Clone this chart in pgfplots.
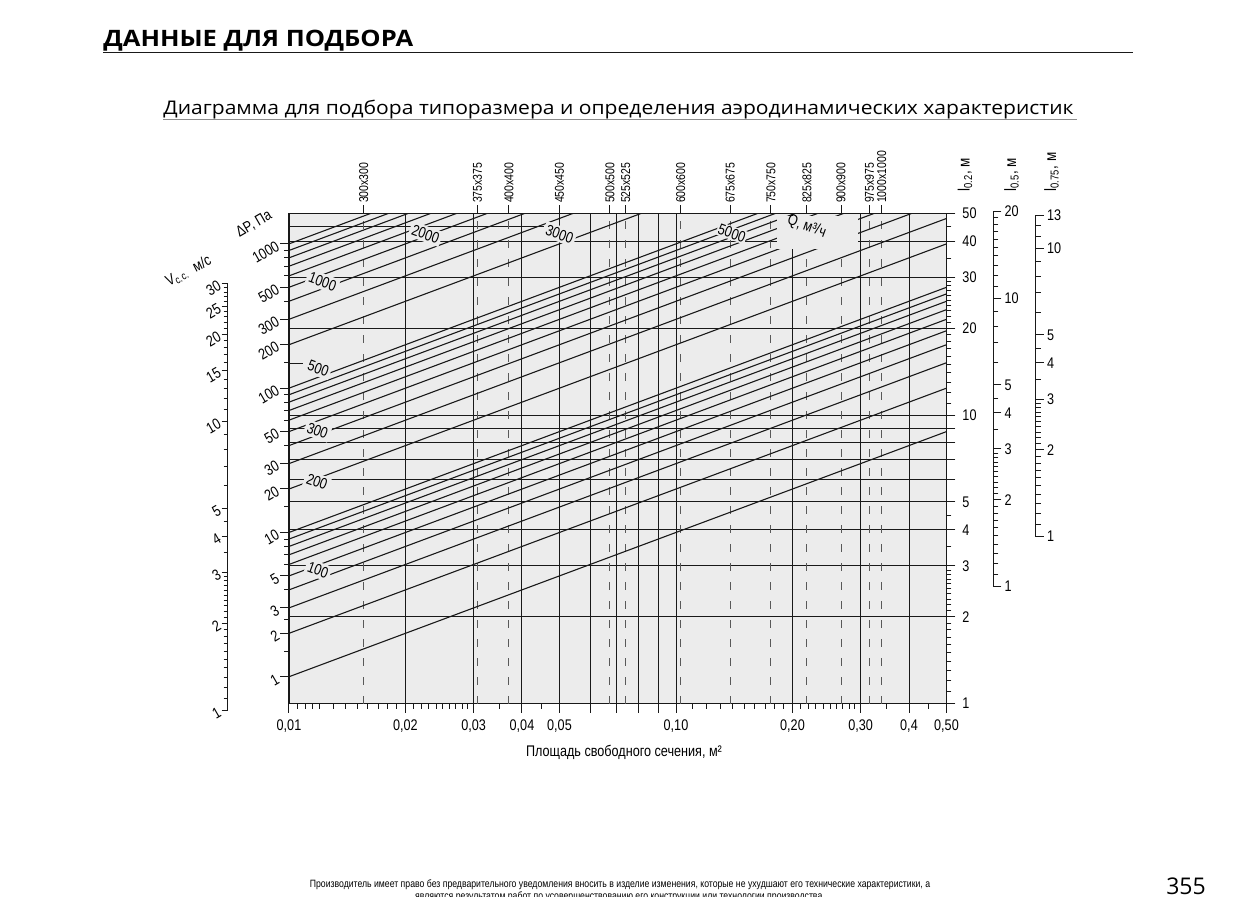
\documentclass[border=0pt]{standalone}
\usepackage{pgfplots}
\pgfplotsset{compat=1.18}
\usepackage{fontspec}
\setmainfont{Liberation Sans}[FakeStretch=0.82]
\newfontfamily\headfont{Open Sans}
\newfontfamily\headwide{Open Sans}[FakeStretch=1.13]
\newfontfamily\subwide{Open Sans}[FakeStretch=1.12]
\definecolor{bgg}{RGB}{236,236,236}
\definecolor{ink}{RGB}{25,25,25}
\newcommand\tl{\fontsize{7.7}{8}\selectfont}
\newcommand\szf{\fontsize{6.4}{7}\selectfont}
\tikzset{
  diag/.style={ink, line width=0.55pt},
  dsh/.style={black!65, line width=0.5pt, dash pattern=on 4pt off 5.5pt},
}
\begin{document}
\begin{tikzpicture}
\useasboundingbox (0pt,0pt) rectangle (620.5pt,-448.5pt);
% header
\node[anchor=base west, inner sep=0pt, font=\headwide\bfseries\fontsize{11.3}{13}\selectfont] at (51.5pt,-23.25pt) {ДАННЫЕ ДЛЯ ПОДБОРА};
\draw[ink, line width=0.5pt] (51.5pt,-26.25pt) -- (566.5pt,-26.25pt);
\node[anchor=base west, inner sep=0pt, font=\subwide\fontsize{9.4}{11}\selectfont] at (81.5pt,-57.5pt) {Диаграмма для подбора типоразмера и определения аэродинамических характеристик};
\draw[black!45, line width=0.4pt] (81.5pt,-59.7pt) -- (538.5pt,-59.7pt);

% main axis
\begin{axis}[
  at={(144.5pt,-351.8pt)}, anchor=south west,
  scale only axis, width=328.75pt, height=245.15pt,
  xmode=log, ymode=log, xmin=0.01, xmax=0.5, ymin=1, ymax=50,
  axis background/.style={fill=bgg},
  axis line style={line width=0.6pt, ink},
  tick align=outside, tick style={ink, line width=0.5pt},
  xtick pos=left, ytick pos=right, xticklabel pos=left, yticklabel pos=right,
  xtick={0.01,0.02,0.03,0.04,0.05,0.06,0.07,0.08,0.09,0.1,0.2,0.3,0.4,0.5},
  xticklabels={{0,01},{0,02},{0,03},{0,04},{0,05},{},{},{},{},{0,10},{0,20},{0,30},{0,4},{0,50}},
  minor xtick={0.0105,0.011,0.0115,0.012,0.013,0.014,0.015,0.016,0.017,0.018,0.019,0.021,0.022,0.023,0.024,0.025,0.026,0.027,0.028,0.029,0.035,0.045,0.11,0.12,0.13,0.14,0.15,0.16,0.17,0.18,0.19,0.21,0.22,0.23,0.24,0.25,0.26,0.27,0.28,0.29,0.35,0.45},
  ytick={1,2,3,4,5,6,7,8,9,10,20,30,40,50},
  yticklabels={1,2,3,4,5,{},{},{},{},10,20,30,40,50},
  minor ytick={1.1,1.2,1.3,1.4,1.5,1.6,1.7,1.8,1.9,2.1,2.2,2.3,2.4,2.5,2.6,2.7,2.8,2.9,3.5,4.5,11,12,13,14,15,16,17,18,19,21,22,23,24,25,26,27,28,29,35,45},
  major tick length=4.5pt, minor tick length=2.5pt,
  grid=major, major grid style={ink, line width=0.5pt},
  ticklabel style={font=\tl},
  clip=true,
]
% partial horizontal line and leader
\addplot[diag] coordinates {(0.01,44.9) (0.0455,44.9)};
\addplot[diag] coordinates {(0.01,15.11) (0.0109,15.11)};
% dashed size lines
\addplot[dsh] coordinates {(0.0156,1) (0.0156,50)};
\addplot[dsh] coordinates {(0.0307,1) (0.0307,50)};
\addplot[dsh] coordinates {(0.0370,1) (0.0370,50)};
\addplot[dsh] coordinates {(0.0675,1) (0.0675,50)};
\addplot[dsh] coordinates {(0.0742,1) (0.0742,50)};
\addplot[dsh] coordinates {(0.1029,1) (0.1029,50)};
\addplot[dsh] coordinates {(0.138,1) (0.138,50)};
\addplot[dsh] coordinates {(0.176,1) (0.176,50)};
\addplot[dsh] coordinates {(0.218,1) (0.218,50)};
\addplot[dsh] coordinates {(0.267,1) (0.267,50)};
\addplot[dsh] coordinates {(0.316,1) (0.316,50)};
\addplot[dsh] coordinates {(0.340,1) (0.340,50)};
% diagonals (dP = 1 ... 1000 Pa at A = 0.01)
\addplot[diag] coordinates {(0.01,1.239) (0.5,8.761)};
\addplot[diag] coordinates {(0.01,1.752) (0.5,12.390)};
\addplot[diag] coordinates {(0.01,2.146) (0.5,15.175)};
\addplot[diag] coordinates {(0.01,2.478) (0.5,17.522)};
\addplot[diag] coordinates {(0.01,2.770) (0.5,19.590)};
\addplot[diag] coordinates {(0.01,3.035) (0.5,21.460)};
\addplot[diag] coordinates {(0.01,3.278) (0.5,23.180)};
\addplot[diag] coordinates {(0.01,3.504) (0.5,24.780)};
\addplot[diag] coordinates {(0.01,3.717) (0.5,26.283)};
\addplot[diag] coordinates {(0.01,3.918) (0.5,27.705)};
\addplot[diag] coordinates {(0.01,5.541) (0.5,39.181)};
\addplot[diag] coordinates {(0.01,6.786) (0.5,47.987)};
\addplot[diag] coordinates {(0.01,7.836) (0.5,55.410)};
\addplot[diag] coordinates {(0.01,8.761) (0.5,61.950)};
\addplot[diag] coordinates {(0.01,9.597) (0.5,67.863)};
\addplot[diag] coordinates {(0.01,10.366) (0.5,73.300)};
\addplot[diag] coordinates {(0.01,11.082) (0.5,78.361)};
\addplot[diag] coordinates {(0.01,11.754) (0.5,83.114)};
\addplot[diag] coordinates {(0.01,12.390) (0.5,87.611)};
\addplot[diag] coordinates {(0.01,17.522) (0.5,123.90)};
\addplot[diag] coordinates {(0.01,21.460) (0.5,151.75)};
\addplot[diag] coordinates {(0.01,24.780) (0.5,175.22)};
\addplot[diag] coordinates {(0.01,27.705) (0.5,195.90)};
\addplot[diag] coordinates {(0.01,30.349) (0.5,214.60)};
\addplot[diag] coordinates {(0.01,32.781) (0.5,231.79)};
\addplot[diag] coordinates {(0.01,35.044) (0.5,247.80)};
\addplot[diag] coordinates {(0.01,37.170) (0.5,262.83)};
\addplot[diag] coordinates {(0.01,39.181) (0.5,277.05)};
% labels with masks
\node[fill=bgg, inner sep=0pt, minimum width=40.5pt, minimum height=16.5pt] at (axis cs:0.23225,42.90) {};
\node[rotate=-20, font=\tl] at (axis cs:0.2176,44.93) {Q, м³/ч};
\node[fill=bgg, inner sep=1.2pt, rotate=-20, font=\tl] at (axis cs:0.02253,42.38) {2000};
\node[fill=bgg, inner sep=1.2pt, rotate=-20, font=\tl] at (axis cs:0.05002,42.38) {3000};
\node[fill=bgg, inner sep=0.6pt, rotate=-20, font=\tl] at (axis cs:0.1394,42.71) {5000};
\node[fill=bgg, inner sep=1.2pt, rotate=-20, font=\tl] at (axis cs:0.012208,28.96) {1000};
\node[fill=bgg, inner sep=1.2pt, rotate=-20, font=\tl] at (axis cs:0.011905,14.51) {500};
\node[fill=bgg, inner sep=1.2pt, rotate=-20, font=\tl] at (axis cs:0.011849,8.817) {300};
\node[fill=bgg, inner sep=1.2pt, rotate=-20, font=\tl] at (axis cs:0.011814,5.873) {200};
\node[fill=bgg, inner sep=1.2pt, rotate=-20, font=\tl] at (axis cs:0.011884,2.903) {100};
\end{axis}

% size ticks on top
\begin{axis}[
  at={(144.5pt,-351.8pt)}, anchor=south west,
  scale only axis, width=328.75pt, height=245.15pt,
  xmode=log, xmin=0.01, xmax=0.5, ymin=0, ymax=1,
  axis line style={draw=none}, ytick=\empty,
  xtick pos=right, xticklabel pos=right, tick align=outside,
  xtick={0.0156,0.0307,0.0370,0.0500,0.0675,0.0742,0.1029,0.138,0.176,0.218,0.267,0.316,0.340},
  xticklabels={300x300,375x375,400x400,450x450,500x500,525x525,600x600,675x675,750x750,825x825,900x900,975x975,1000x1000},
  major tick length=4pt, tick style={ink, line width=0.5pt},
  xticklabel style={rotate=90, anchor=west, font=\szf, inner sep=1pt},
]
\end{axis}

% dP scale
\begin{axis}[
  scale only axis, width=1pt, xmin=0, xmax=1, ymode=log,
  axis x line=none, axis y line=left, y axis line style={draw=none},
  tick align=outside, tick style={ink, line width=0.5pt}, ticklabel style={font=\tl},
  at={(144.5pt,-338.35pt)}, anchor=south west, height=229.16pt,
  ymin=1, ymax=1500,
  ytick={1,2,3,5,10,20,30,50,100,200,300,500,1000},
  yticklabels={1,2,3,5,10,20,30,50,100,200,300,500,1000},
  minor ytick={1.5,2.5,4,6,7,8,9,15,40,60,70,80,90,150,400,600,700,800,900},
  major tick length=4.5pt, minor tick length=2.5pt,
  yticklabel style={rotate=30, anchor=east, inner sep=1pt},
]
\end{axis}

% V scale
\begin{axis}[
  scale only axis, width=1pt, xmin=0, xmax=1, ymode=log,
  axis x line=none, axis y line=left, y axis line style={-, line width=0.6pt, ink},
  tick align=outside, tick style={ink, line width=0.5pt}, ticklabel style={font=\tl},
  at={(113.85pt,-355pt)}, anchor=south west, height=213.15pt,
  ymin=1, ymax=30,
  ytick={1,2,3,4,5,10,15,20,25,30},
  yticklabels={1,2,3,4,5,10,15,20,25,30},
  minor ytick={1.1,1.2,1.3,1.4,1.5,1.6,1.7,1.8,1.9,2.1,2.2,2.3,2.4,2.5,2.6,2.7,2.8,2.9,3.5,4.5,6,7,8,9,11,12,13,14,16,17,18,19,21,22,23,24,26,27,28,29},
  major tick length=3pt, minor tick length=2pt,
  yticklabel style={rotate=30, anchor=east, inner sep=1pt},
]
\end{axis}

% l0.5 scale
\begin{axis}[
  scale only axis, width=1pt, xmin=0, xmax=1, ymode=log,
  axis x line=none, axis y line=right, y axis line style={-, line width=0.6pt, ink},
  tick align=outside, tick style={ink, line width=0.5pt}, ticklabel style={font=\tl},
  at={(496.65pt,-293.35pt)}, anchor=south east, height=187.75pt,
  ymin=1, ymax=20,
  ytick={1,2,3,4,5,10,20},
  yticklabels={1,2,3,4,5,10,20},
  minor ytick={1.1,1.2,1.3,1.4,1.5,1.6,1.7,1.8,1.9,2.1,2.2,2.3,2.4,2.5,2.6,2.7,2.8,2.9,3.5,4.5,6,7,8,9,11,12,13,14,15,16,17,18,19},
  major tick length=4pt, minor tick length=2.5pt,
  yticklabel style={inner sep=1.5pt},
]
\end{axis}

% l0.75 scale
\begin{axis}[
  scale only axis, width=1pt, xmin=0, xmax=1, ymode=log,
  axis x line=none, axis y line=right, y axis line style={-, line width=0.6pt, ink},
  tick align=outside, tick style={ink, line width=0.5pt}, ticklabel style={font=\tl},
  at={(517.85pt,-268.35pt)}, anchor=south east, height=160.74pt,
  ymin=1, ymax=13,
  ytick={1,2,3,4,5,10,13},
  yticklabels={1,2,3,4,5,10,13},
  minor ytick={1.1,1.2,1.3,1.4,1.5,1.6,1.7,1.8,1.9,2.1,2.2,2.3,2.4,2.5,2.6,2.7,2.8,2.9,3.5,4.5,6,7,8,9,11,12},
  major tick length=4pt, minor tick length=2.5pt,
  yticklabel style={inner sep=1.5pt},
]
\end{axis}

% scale titles
\node[rotate=30, font=\tl, inner sep=0pt] at (127pt,-112pt) {ΔP,~Па};
\node[rotate=27, font=\tl] at (94.25pt,-135.5pt) {V\textsubscript{c.c.}\ \ м/с};
\node[rotate=90, anchor=west, inner sep=0pt, font=\fontsize{8.2}{9}\selectfont] at (482.5pt,-96pt) {l\textsubscript{0.2}, м};
\node[rotate=90, anchor=west, inner sep=0pt, font=\fontsize{8.2}{9}\selectfont] at (505.75pt,-96pt) {l\textsubscript{0.5}, м};
\node[rotate=90, anchor=west, inner sep=0pt, font=\fontsize{8.2}{9}\selectfont] at (525.75pt,-96pt) {l\textsubscript{0.75}, м};
\node[font=\tl] at (312pt,-376pt) {Площадь свободного сечения, м²};

% footer
\node[font=\fontsize{5.3}{6}\selectfont, align=center] at (310pt,-445.3pt) {Производитель имеет право без предварительного уведомления вносить в изделие изменения, которые не ухудшают его технические характеристики, а\\являются результатом работ по усовершенствованию его конструкции или технологии производства.};
\node[font=\headfont\fontsize{11.5}{12}\selectfont] at (593pt,-443pt) {355};
\end{tikzpicture}
\end{document}
